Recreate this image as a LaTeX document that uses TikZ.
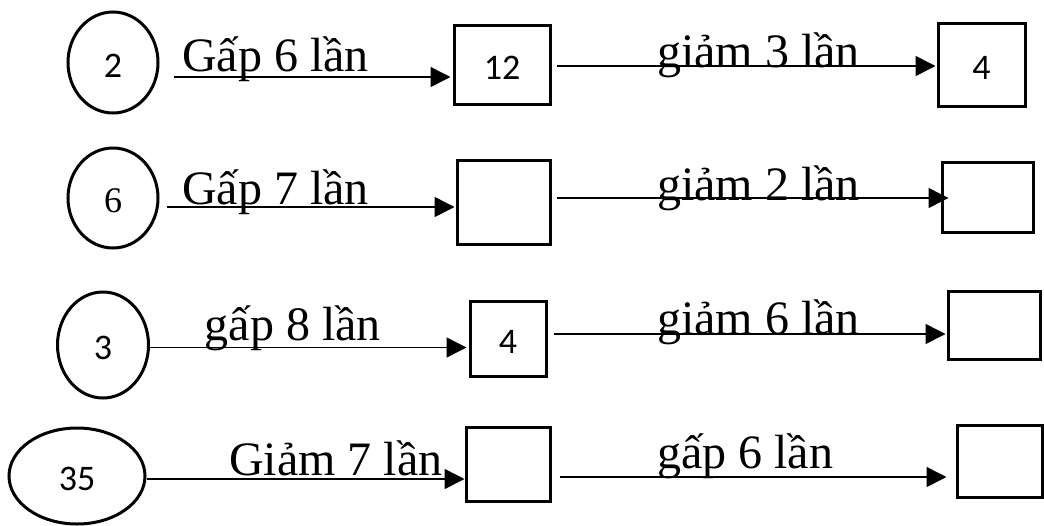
\documentclass[tikz,border=0pt]{standalone}
\usepackage{fontspec}
\setmainfont{Liberation Serif}
\newfontfamily\numfont{Carlito}
\usetikzlibrary{shapes.geometric,arrows.meta}

\tikzset{
	oval/.style={ellipse, draw, line width=1.5pt, inner sep=0pt},
	cell/.style={rectangle, draw, line width=1.5pt, inner sep=0pt},
	num/.style={font=\numfont\fontsize{18}{18}\selectfont, text height=15pt},
	lbl/.style={font=\fontsize{24}{28}\selectfont, at start, anchor=base west, inner sep=0pt},
	arr/.style={-{Triangle[length=10pt,width=10pt]}, line width=0.75pt}
}

\begin{document}
\begin{tikzpicture}[x=0.5pt, y=-0.5pt]
\useasboundingbox (0,0) rectangle (1044,525);

\node[oval, num, minimum width=45pt, minimum height=50.5pt] (c1) at (113,62.5) {2};
\node[cell, num, minimum width=48pt, minimum height=39.5pt] (b1) at (502,64.5) {12};
\node[cell, num, minimum width=43.5pt, minimum height=41.5pt] (b2) at (981.5,64.5) {4};

\node[oval, num, font=\fontsize{18}{18}\selectfont, minimum width=45pt, minimum height=50pt] (c2) at (113,198) {6};
\node[cell, minimum width=46.5pt, minimum height=42pt] (b3) at (503.5,202) {};
\node[cell, minimum width=45.5pt, minimum height=35pt] (b4) at (987.5,197) {};

\node[oval, num, minimum width=45.5pt, minimum height=53pt] (c3) at (103,345) {3};
\node[cell, num, minimum width=38pt, minimum height=37.5pt] (b5) at (508,338.5) {4};
\node[cell, minimum width=46pt, minimum height=34pt] (b6) at (994,325) {};

\node[oval, num, minimum width=68pt, minimum height=48pt] (c4) at (77,476) {35};
\node[cell, minimum width=42pt, minimum height=37pt] (b7) at (508,464) {};
\node[cell, minimum width=42.5pt, minimum height=36pt] (b8) at (999.5,461) {};

\path[arr]
([shift={(14,14.5)}]c1.east) edge node[lbl, shift={(8,-6)}] {Gấp 6 lần} ([shift={(-2,12.5)}]b1.west)
([shift={(5,1.5)}]b1.east) edge node[lbl, shift={(100,1)}] {giảm 3 lần} ([shift={(-1,1.5)}]b2.west)
([shift={(7,9)}]c2.east) edge node[lbl, shift={(15,-3)}] {Gấp 7 lần} ([shift={(-1,5)}]b3.west)
([shift={(5,-4)}]b3.east) edge node[lbl, shift={(100,2)}] {giảm 2 lần} ([shift={(8,1)}]b4.west)
([shift={(0,2.5)}]c3.east) edge node[lbl, shift={(54,-7.5)}] {gấp 8 lần} ([shift={(-2,9)}]b5.west)
([shift={(6,-4.5)}]b5.east) edge node[lbl, shift={(103,0)}] {giảm 6 lần} ([shift={(-1,9)}]b6.west)
([shift={(0,3)}]c4.east) edge node[lbl, shift={(82,-4)}] {Giảm 7 lần} ([shift={(0,15)}]b7.west)
([shift={(8,13)}]b7.east) edge node[lbl, shift={(97,-9)}] {gấp 6 lần} ([shift={(-9,16)}]b8.west)
;
\end{tikzpicture}
\end{document}
